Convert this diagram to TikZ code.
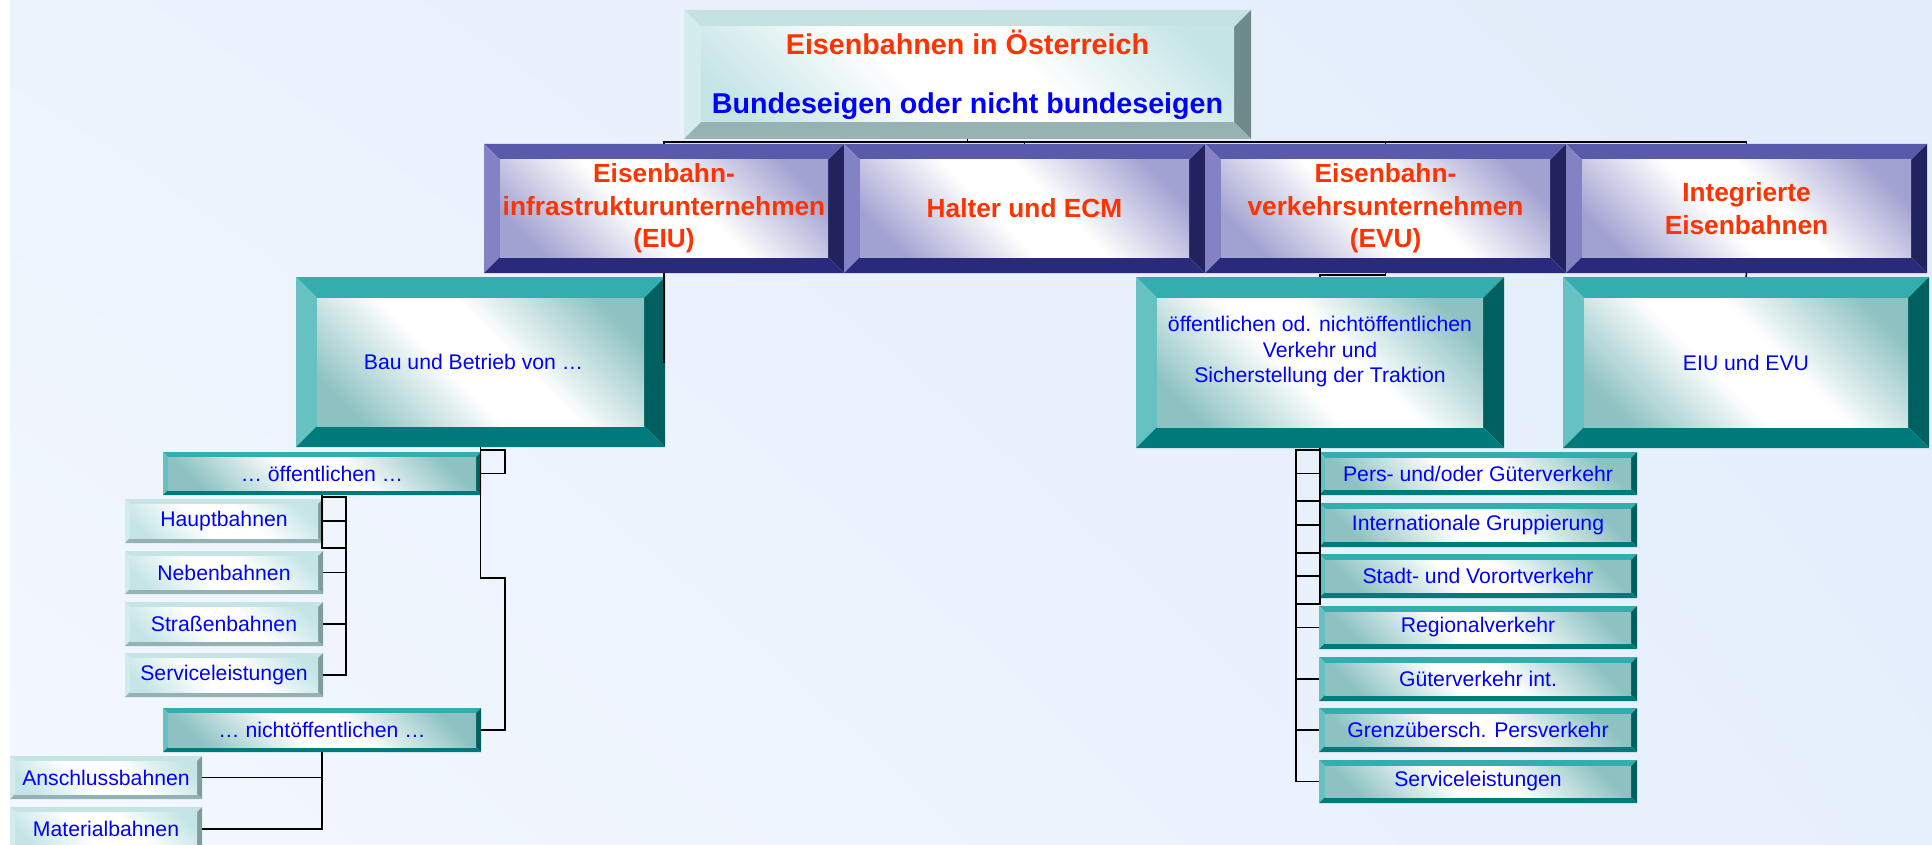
\documentclass[tikz,border=0pt]{standalone}
\usepackage{fontspec}
\setmainfont{Liberation Sans}
\usetikzlibrary{calc,shadings}
\definecolor{myred}{HTML}{FF3300}
\definecolor{myblue}{HTML}{0000FF}
\definecolor{navyt}{HTML}{5A5AAA}
\definecolor{navyl}{HTML}{8282C4}
\definecolor{navyr}{HTML}{22225E}
\definecolor{navyb}{HTML}{2A2A7C}
\definecolor{navytint}{HTML}{A2A2D2}
\definecolor{tealt}{HTML}{33ADAD}
\definecolor{teall}{HTML}{66C2C2}
\definecolor{tealr}{HTML}{005F5F}
\definecolor{tealb}{HTML}{007A7A}
\definecolor{tealtint}{HTML}{8EC2C2}
\definecolor{litet}{HTML}{C4E2E2}
\definecolor{litel}{HTML}{D4ECEC}
\definecolor{liter}{HTML}{6E8A8A}
\definecolor{liteb}{HTML}{96B2B2}
\definecolor{litetint}{HTML}{C4E4E6}
\definecolor{smlt}{HTML}{C6E4E4}
\definecolor{smll}{HTML}{D2ECEC}
\definecolor{smlr}{HTML}{7E9E9E}
\definecolor{smlb}{HTML}{94B2B2}
\definecolor{smltint}{HTML}{C4E4E6}
\definecolor{bgul}{HTML}{ECF3FD}
\definecolor{bgur}{HTML}{E2ECFB}
\definecolor{bgll}{HTML}{F4F8FE}
\definecolor{bglr}{HTML}{E6EFFC}
\pgfdeclareverticalshading{navyf}{100bp}{color(0bp)=(navytint); color(22bp)=(navytint); color(44bp)=(white); color(56bp)=(white); color(78bp)=(navytint); color(100bp)=(navytint)}
\pgfdeclareverticalshading{tealf}{100bp}{color(0bp)=(tealtint); color(22bp)=(tealtint); color(44bp)=(white); color(56bp)=(white); color(78bp)=(tealtint); color(100bp)=(tealtint)}
\pgfdeclareverticalshading{litef}{100bp}{color(0bp)=(litetint); color(20bp)=(litetint); color(42bp)=(white); color(58bp)=(white); color(80bp)=(litetint); color(100bp)=(litetint)}
\pgfdeclareverticalshading{smlf}{100bp}{color(0bp)=(smltint); color(20bp)=(smltint); color(42bp)=(white); color(58bp)=(white); color(80bp)=(smltint); color(100bp)=(smltint)}
% #1 palette, #2 bevel, #3 name, #4 x1, #5 y1, #6 x2, #7 y2, #8 text style, #9 text
\newcommand\bevbox[9]{%
  \fill[#1t] (#4,#5) -- (#6,#5) -- (#6-#2,#5+#2) -- (#4+#2,#5+#2) -- cycle;
  \fill[#1l] (#4,#5) -- (#4+#2,#5+#2) -- (#4+#2,#7-#2) -- (#4,#7) -- cycle;
  \fill[#1r] (#6,#5) -- (#6,#7) -- (#6-#2,#7-#2) -- (#6-#2,#5+#2) -- cycle;
  \fill[#1b] (#4,#7) -- (#6,#7) -- (#6-#2,#7-#2) -- (#4+#2,#7-#2) -- cycle;
  \shade[shading=#1f, shading angle=-45] (#4+#2,#5+#2) rectangle (#6-#2,#7-#2);
  \node[#8, minimum width={(#6-#4)*0.75pt}, minimum height={(#7-#5)*0.75pt}] (#3) at ({(#4+#6)/2},{(#5+#7)/2}) {#9};
}
\tikzset{
  boxtxt/.style={align=center, inner sep=0pt, outer sep=0pt},
  hd/.style={boxtxt, text=myred, font=\fontsize{19.7}{24.4}\selectfont\bfseries},
  ttl/.style={boxtxt, font=\fontsize{21.5}{44.25}\selectfont\bfseries},
  lb/.style={boxtxt, text=myblue, font=\fontsize{15.9}{19.1}\selectfont},
  conn/.style={draw=black, line width=1.1pt},
}
\begin{document}
\begin{tikzpicture}[x=0.75pt, y=-0.75pt]
\clip (0,0) rectangle (1932,845);
\fill[white] (0,0) rectangle (1932,845);
\shade[upper left=bgul, upper right=bgur, lower left=bgll, lower right=bglr] (10,0) rectangle (1932,845);

\bevbox{lite}{17}{root}{684}{10}{1251}{139}{ttl}{\textcolor{myred}{Eisenbahnen in Österreich}\\\textcolor{myblue}{Bundeseigen oder nicht bundeseigen}}

\bevbox{navy}{16}{eiu}{484}{144}{844}{273}{hd}{Eisenbahn-\\infrastrukturunternehmen\\(EIU)}
\bevbox{navy}{16}{halter}{844}{144}{1205}{273}{hd}{Halter und ECM}
\bevbox{navy}{16}{evu}{1205}{144}{1566}{273}{hd}{Eisenbahn-\\verkehrsunternehmen\\(EVU)}
\bevbox{navy}{16}{integ}{1566}{144}{1927}{273}{hd}{Integrierte\\Eisenbahnen}

\bevbox{teal}{21}{bau}{296}{277}{665}{447}{lb}{Bau und Betrieb von …\hspace*{10.5pt}}
\bevbox{teal}{21}{evuv}{1136}{277}{1504}{448}{lb}{öffentlichen od. nichtöffentlichen\\Verkehr und\\Sicherstellung der Traktion\\\mbox{}}
\bevbox{teal}{21}{eiuevu}{1563}{277}{1929}{448}{lb}{EIU und EVU}

\bevbox{teal}{5}{oeff}{163}{452}{481}{495}{lb}{… öffentlichen …}
\bevbox{sml}{5}{haupt}{125}{499}{323}{543}{lb}{Hauptbahnen}
\bevbox{sml}{5}{neben}{125}{551}{323}{594}{lb}{Nebenbahnen}
\bevbox{sml}{5}{strassen}{125}{602}{323}{646}{lb}{Straßenbahnen}
\bevbox{sml}{5}{serva}{125}{653}{323}{697}{lb}{Serviceleistungen}
\bevbox{teal}{5}{noeff}{163}{708}{481}{752}{lb}{… nichtöffentlichen …}
\bevbox{sml}{5}{ansch}{10}{756}{202}{799}{lb}{Anschlussbahnen}
\bevbox{sml}{5}{material}{10}{807}{202}{851}{lb}{Materialbahnen}

\bevbox{teal}{6}{r1}{1319}{452}{1637}{495}{lb}{Pers- und/oder Güterverkehr}
\bevbox{teal}{6}{r2}{1319}{503}{1637}{547}{lb}{Internationale Gruppierung}
\bevbox{teal}{6}{r3}{1319}{554}{1637}{598}{lb}{Stadt- und Vorortverkehr}
\bevbox{teal}{6}{r4}{1319}{606}{1637}{649}{lb}{Regionalverkehr}
\bevbox{teal}{6}{r5}{1319}{657}{1637}{701}{lb}{Güterverkehr int.}
\bevbox{teal}{6}{r6}{1319}{708}{1637}{752}{lb}{Grenzübersch. Persverkehr}
\bevbox{teal}{6}{r7}{1319}{760}{1637}{803}{lb}{Serviceleistungen}

% connectors
\foreach \c in {eiu,halter,evu,integ}
  \draw[conn] (root.south) -- ++(0,3) -| (\c.north);
\draw[conn] (eiu.south) |- (bau.east);
\draw[conn] (evu.south) -- ++(0,2) -| (evuv.north);
\draw[conn] (integ.south) -- (eiuevu.north);

\draw[conn] (bau.south) -- ++(0,3) -| ($(oeff.east)+(24,0)$) -- (oeff.east);
\draw[conn] (bau.south) -- ++(0,131) -| ($(noeff.east)+(24,0)$) -- (noeff.east);

\draw[conn] (oeff.south) -- ++(0,2) -| ($(haupt.east)+(23,0)$) -- (haupt.east);
\draw[conn] (oeff.south) -- ++(0,53) -| ($(neben.east)+(23,0)$) -- (neben.east);
\draw[conn] (oeff.south) -- ++(0,2) -| ($(strassen.east)+(23,0)$) -- (strassen.east);
\draw[conn] (oeff.south) -- ++(0,2) -| ($(serva.east)+(23,0)$) -- (serva.east);

\draw[conn] (noeff.south) |- (ansch.east);
\draw[conn] (noeff.south) |- (material.east);

\draw[conn] (evuv.south) -- ++(0,2) -| ($(r1.west)+(-23,0)$) -- (r1.west);
\draw[conn] (evuv.south) -- ++(0,53) -| ($(r2.west)+(-23,0)$) -- (r2.west);
\draw[conn] (evuv.south) -- ++(0,105) -| ($(r3.west)+(-23,0)$) -- (r3.west);
\draw[conn] (evuv.south) -- ++(0,156) -| ($(r4.west)+(-23,0)$) -- (r4.west);
\foreach \c in {r5,r6,r7}
  \draw[conn] (evuv.south) -- ++(0,2) -| ($(\c.west)+(-23,0)$) -- (\c.west);
\end{tikzpicture}
\end{document}
